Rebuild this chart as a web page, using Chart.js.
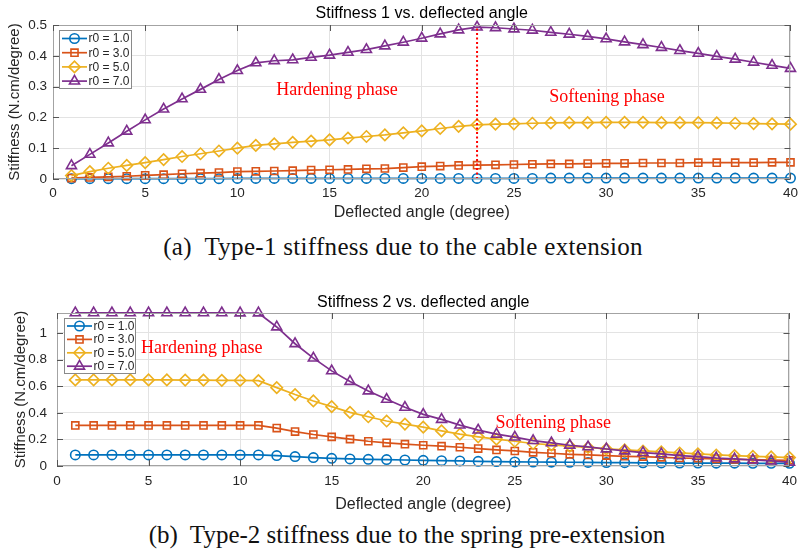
<!DOCTYPE html>
<html>
<head>
<meta charset="utf-8">
<script src="https://cdn.jsdelivr.net/npm/chart.js@4.4.1/dist/chart.umd.min.js"></script>
<style>
  html, body { margin: 0; padding: 0; background: #fff; }
  body { width: 804px; height: 554px; position: relative; overflow: hidden; }
  canvas { position: absolute; left: 0; }
  #c1 { top: 0; }
  #c2 { top: 290px; }
  .caption {
    position: absolute; left: 0; width: 804px; text-align: center;
    font-family: "Liberation Serif", "DejaVu Serif", serif; font-size: 25px; color: #111;
    line-height: 28px; white-space: pre;
  }
  #cap1 { top: 233px; left: 1px; letter-spacing: 0.3px; }
  #cap2 { top: 521px; left: 5px; }
</style>
</head>
<body>
<canvas id="c1" width="804" height="230"></canvas>
<canvas id="c2" width="804" height="230"></canvas>
<div class="caption" id="cap1">(a)  Type-1 stiffness due to the cable extension</div>
<div class="caption" id="cap2">(b)  Type-2 stiffness due to the spring pre-extension</div>
<script>
// Deflected angle samples (degree)
const angles = [1,2,3,4,5,6,7,8,9,10,11,12,13,14,15,16,17,18,19,20,
                21,22,23,24,25,26,27,28,29,30,31,32,33,34,35,36,37,38,39,40];

const seriesNames = ['r0 = 1.0', 'r0 = 3.0', 'r0 = 5.0', 'r0 = 7.0'];

// Type-1 stiffness (cable extension), N.cm/degree
const k1_r1 = [0.001,0.001,0.001,0.001,0.001,0.001,0.001,0.001,0.001,0.002,
               0.002,0.002,0.002,0.002,0.002,0.002,0.002,0.002,0.002,0.002,
               0.002,0.002,0.002,0.002,0.002,0.002,0.003,0.003,0.003,0.003,
               0.003,0.003,0.003,0.003,0.003,0.003,0.003,0.003,0.003,0.003];
const k1_r3 = [0.003,0.005,0.007,0.009,0.012,0.014,0.017,0.019,0.021,0.024,
               0.025,0.026,0.027,0.029,0.030,0.031,0.033,0.034,0.037,0.040,
               0.042,0.044,0.045,0.046,0.047,0.048,0.049,0.049,0.050,0.051,
               0.051,0.052,0.052,0.052,0.053,0.053,0.053,0.053,0.054,0.054];
const k1_r5 = [0.011,0.024,0.035,0.044,0.053,0.063,0.073,0.082,0.091,0.100,
               0.109,0.114,0.119,0.123,0.127,0.133,0.138,0.143,0.150,0.156,
               0.164,0.171,0.176,0.178,0.179,0.181,0.182,0.183,0.183,0.184,
               0.184,0.184,0.183,0.183,0.183,0.182,0.181,0.180,0.179,0.178];
const k1_r7 = [0.043,0.080,0.117,0.155,0.192,0.227,0.260,0.291,0.323,0.352,
               0.377,0.384,0.387,0.395,0.402,0.411,0.420,0.432,0.444,0.457,
               0.471,0.484,0.493,0.491,0.487,0.483,0.476,0.470,0.463,0.455,
               0.445,0.436,0.427,0.417,0.408,0.398,0.389,0.379,0.369,0.359];

// Type-2 stiffness (spring pre-extension), N.cm/degree
const k2_r1 = [0.083,0.083,0.083,0.083,0.083,0.083,0.083,0.083,0.083,0.083,
               0.083,0.078,0.071,0.063,0.058,0.053,0.050,0.048,0.045,0.043,
               0.040,0.038,0.035,0.033,0.031,0.030,0.029,0.028,0.027,0.026,
               0.025,0.024,0.023,0.022,0.022,0.021,0.021,0.020,0.020,0.020];
const k2_r3 = [0.305,0.305,0.305,0.305,0.305,0.305,0.305,0.305,0.305,0.305,
               0.305,0.285,0.259,0.237,0.219,0.202,0.186,0.174,0.164,0.156,
               0.149,0.141,0.131,0.121,0.113,0.103,0.096,0.088,0.083,0.078,
               0.073,0.071,0.065,0.060,0.058,0.053,0.050,0.048,0.045,0.043];
const k2_r5 = [0.647,0.647,0.647,0.647,0.647,0.647,0.646,0.645,0.644,0.643,
               0.642,0.589,0.537,0.489,0.446,0.403,0.370,0.338,0.315,0.292,
               0.264,0.239,0.219,0.202,0.186,0.169,0.159,0.149,0.139,0.128,
               0.121,0.113,0.106,0.098,0.091,0.083,0.078,0.073,0.068,0.063];
const k2_r7 = [1.151,1.151,1.151,1.151,1.151,1.151,1.151,1.151,1.151,1.150,
               1.150,1.045,0.919,0.811,0.715,0.635,0.564,0.501,0.441,0.388,
               0.350,0.307,0.270,0.239,0.217,0.191,0.174,0.156,0.144,0.128,
               0.113,0.101,0.091,0.078,0.071,0.060,0.053,0.045,0.038,0.028];

// Axis ticks and labels
const xTicks = [0,5,10,15,20,25,30,35,40];
const xTickLabels = ['0','5','10','15','20','25','30','35','40'];
const y1Ticks = [0,0.1,0.2,0.3,0.4,0.5];
const y1TickLabels = ['0','0.1','0.2','0.3','0.4','0.5'];
const y2Ticks = [0,0.2,0.4,0.6,0.8,1];
const y2TickLabels = ['0','0.2','0.4','0.6','0.8','1'];

// Phase annotations: [text, angle, stiffness]
const notes1 = [['Hardening phase', 15.4, 0.289], ['Softening phase', 30.05, 0.266]];
const notes2 = [['Hardening phase', 7.9, 0.887], ['Softening phase', 27.1, 0.323]];
// Peak of the r0 = 7.0 curve, marked by a dotted divider
const peakAngle = 23;

const COLORS = ['#0072BD', '#D95319', '#EDB120', '#7E2F8E'];
const STYLES = [
  { pointStyle: 'circle', radius: 4.7 },
  { pointStyle: 'rect', radius: 5 },
  { pointStyle: 'rectRot', radius: 5.7 },
  { pointStyle: 'triangle', radius: 5.8 }
];
const SANS = '"Liberation Sans", Arial, Helvetica, sans-serif';
const SERIF = '"Liberation Serif", "Times New Roman", serif';

function makeDatasets(series) {
  return series.map((vals, i) => ({
    label: seriesNames[i],
    data: angles.map((a, j) => ({ x: a, y: vals[j] })),
    borderColor: COLORS[i],
    backgroundColor: COLORS[i],
    borderWidth: 1.7,
    pointStyle: STYLES[i].pointStyle,
    pointRadius: STYLES[i].radius,
    pointBorderWidth: 1.6,
    pointBorderColor: COLORS[i],
    pointBackgroundColor: 'rgba(0,0,0,0)',
    tension: 0,
    clip: false,
    order: 3 - i
  }));
}

// Box, inward tick marks, legend and annotations drawn on top of the plot
const axesDecor = {
  id: 'axesDecor',
  afterDatasetsDraw(chart, args, opts) {
    const { ctx, chartArea: a, scales: { x, y } } = chart;
    ctx.save();
    // dotted divider at the peak
    if (opts.divider) {
      const ds = chart.data.datasets[3].data;
      const pt = ds.find(p => p.x === opts.divider);
      ctx.strokeStyle = '#ff0000';
      ctx.lineWidth = 2;
      ctx.setLineDash([2, 2.5]);
      ctx.beginPath();
      ctx.moveTo(x.getPixelForValue(opts.divider), y.getPixelForValue(0));
      ctx.lineTo(x.getPixelForValue(opts.divider), y.getPixelForValue(pt.y));
      ctx.stroke();
      ctx.setLineDash([]);
    }
    // annotations
    ctx.fillStyle = '#ff0000';
    ctx.font = '18px ' + SERIF;
    ctx.textAlign = 'center';
    ctx.textBaseline = 'middle';
    (opts.notes || []).forEach(n => {
      ctx.fillText(n[0], x.getPixelForValue(n[1]), y.getPixelForValue(n[2]));
    });
    // axes box
    ctx.strokeStyle = '#a3a3a3';
    ctx.lineWidth = 1;
    ctx.strokeRect(Math.round(a.left) + 0.5, Math.round(a.top) + 0.5,
                   Math.round(a.width) - 1, Math.round(a.height) - 1);
    // inward tick marks on all four sides
    ctx.strokeStyle = '#555';
    ctx.beginPath();
    x.ticks.forEach(t => {
      const px = Math.round(x.getPixelForValue(t.value)) + 0.5;
      ctx.moveTo(px, a.bottom); ctx.lineTo(px, a.bottom - 6);
      ctx.moveTo(px, a.top); ctx.lineTo(px, a.top + 6);
    });
    y.ticks.forEach(t => {
      const py = Math.round(y.getPixelForValue(t.value)) + 0.5;
      ctx.moveTo(a.left, py); ctx.lineTo(a.left + 6, py);
      ctx.moveTo(a.right, py); ctx.lineTo(a.right - 6, py);
    });
    ctx.stroke();
    // legend
    const L = opts.legend;
    const lx = a.left + L.dx, ly = a.top + L.dy;
    ctx.fillStyle = '#fff';
    ctx.fillRect(lx, ly, L.w, L.h);
    ctx.strokeStyle = '#8a8a8a';
    ctx.strokeRect(lx + 0.5, ly + 0.5, L.w, L.h);
    ctx.font = '12px ' + SANS;
    ctx.textAlign = 'left';
    ctx.textBaseline = 'middle';
    chart.data.datasets.forEach((ds, i) => {
      const ry = ly + L.first + i * L.step;
      ctx.strokeStyle = ds.borderColor;
      ctx.lineWidth = 1.7;
      ctx.beginPath();
      ctx.moveTo(lx + 3, ry); ctx.lineTo(lx + 28, ry);
      ctx.stroke();
      ctx.fillStyle = 'rgba(0,0,0,0)';
      ctx.lineWidth = 1.6;
      Chart.helpers.drawPoint(ctx, {
        pointStyle: ds.pointStyle, radius: ds.pointRadius, rotation: 0, borderWidth: 1.6
      }, lx + 15.5, ry);
      ctx.fillStyle = '#262626';
      ctx.fillText(ds.label, lx + 29.5, ry + 0.5);
    });
    ctx.restore();
  }
};

function buildChart(id, series, cfg) {
  return new Chart(document.getElementById(id), {
    type: 'line',
    data: { datasets: makeDatasets(series) },
    plugins: [axesDecor],
    options: {
      responsive: false,
      animation: false,
      devicePixelRatio: 1,
      layout: { padding: { top: cfg.padTop, right: cfg.padRight, left: 0, bottom: 0 } },
      plugins: {
        legend: { display: false },
        tooltip: { enabled: false },
        title: {
          display: true, text: cfg.title, fullSize: false,
          color: '#000', font: { family: SANS, size: 16, weight: 'normal', lineHeight: 1.2 },
          padding: cfg.titlePad
        },
        axesDecor: { notes: cfg.notes, divider: cfg.divider, legend: cfg.legend }
      },
      scales: {
        x: {
          type: 'linear', min: 0, max: 40,
          afterFit: s => { s.height = cfg.xAxisH; },
          afterBuildTicks: s => { s.ticks = xTicks.map(v => ({ value: v })); },
          ticks: {
            padding: cfg.xTickPad, color: '#262626', font: { family: SANS, size: 13.5 },
            maxRotation: 0, autoSkip: false,
            callback: (v, i) => xTickLabels[i]
          },
          grid: { color: '#e3e3e3', lineWidth: 1, drawTicks: false },
          border: { display: false },
          title: {
            display: true, text: 'Deflected angle (degree)', color: '#262626',
            font: { family: SANS, size: 16 }, padding: { top: 0, bottom: cfg.xTitlePad }
          }
        },
        y: {
          type: 'linear', min: 0, max: cfg.yMax,
          afterFit: s => { s.width = cfg.yAxisW; },
          afterBuildTicks: s => { s.ticks = cfg.yTicks.map(v => ({ value: v })); },
          ticks: {
            padding: cfg.yTickPad, color: '#262626', font: { family: SANS, size: 13.5 },
            autoSkip: false,
            callback: (v, i) => cfg.yTickLabels[i]
          },
          grid: { color: '#e3e3e3', lineWidth: 1, drawTicks: false },
          border: { display: false },
          title: {
            display: true, text: 'Stiffness (N.cm/degree)', color: '#262626',
            font: { family: SANS, size: 15 }, padding: { top: cfg.yTitlePad, bottom: 0 }
          }
        }
      }
    }
  });
}

buildChart('c1', [k1_r1, k1_r3, k1_r5, k1_r7], {
  title: 'Stiffness 1 vs. deflected angle',
  padTop: 0, padRight: 7, titlePad: { top: 4.4, bottom: 1.4 },
  xAxisH: 51, yAxisW: 53, xTickPad: 6, yTickPad: 6, xTitlePad: 7.4, yTitlePad: 6,
  yMax: 0.5, yTicks: y1Ticks, yTickLabels: y1TickLabels,
  notes: notes1, divider: peakAngle,
  legend: { dx: 6, dy: 5, w: 72, h: 58, first: 8.5, step: 14.2 }
});

buildChart('c2', [k2_r1, k2_r3, k2_r5, k2_r7], {
  title: 'Stiffness 2 vs. deflected angle',
  padTop: 0, padRight: 13, titlePad: { top: 3, bottom: 0.8 },
  xAxisH: 54, yAxisW: 57, xTickPad: 7, yTickPad: 10, xTitlePad: 5.4, yTitlePad: 12,
  yMax: 1.15, yTicks: y2Ticks, yTickLabels: y2TickLabels,
  notes: notes2, divider: null,
  legend: { dx: 7, dy: 5, w: 71, h: 55, first: 8, step: 13.4 }
});
</script>
</body>
</html>
